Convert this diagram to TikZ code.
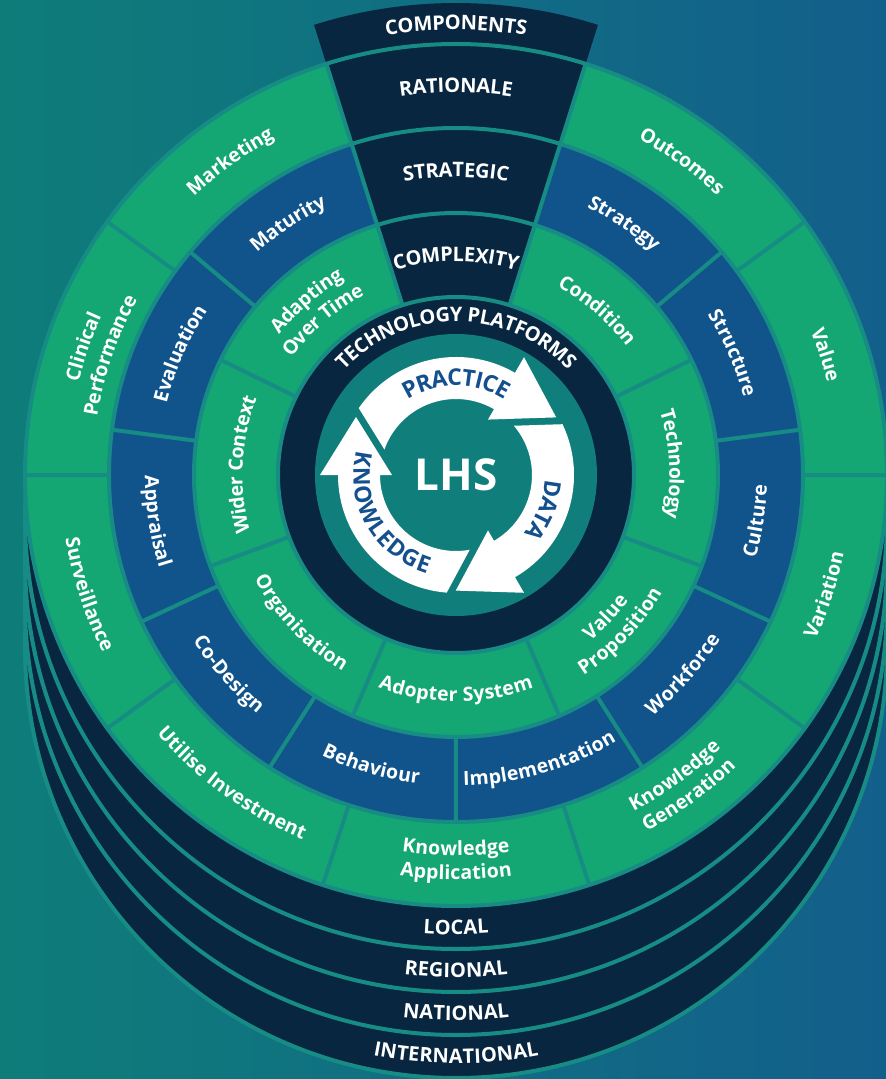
\documentclass[tikz,border=0pt]{standalone}
\usepackage{fontspec}
\setmainfont{Open Sans}
\usetikzlibrary{decorations.text}

\definecolor{lhsbgL}{HTML}{0E7D79}
\definecolor{lhsbgR}{HTML}{135F8C}
\definecolor{lhsgreen}{HTML}{14A774}
\definecolor{lhsblue}{HTML}{11548B}
\definecolor{lhsnavy}{HTML}{08263F}
\definecolor{lhsteal}{HTML}{107F7B}
\definecolor{lhssep}{HTML}{178C84}
\definecolor{lhstxt}{HTML}{15508E}

\newcommand{\ringfont}{\fontsize{19.5}{19.5}\selectfont\bfseries\color{white}}
\newcommand{\capsfont}{\fontsize{20}{20}\selectfont\bfseries\color{white}}
\newcommand{\cyclefont}{\fontsize{23}{23}\selectfont\bfseries\color{lhstxt}}

% text on an arc, reading clockwise (upper half) or counter-clockwise (lower half)
\newcommand{\cwlabel}[4][\ringfont]{\path[decorate,decoration={text along path,text align=center,raise=-6.5pt,text={|#1|#4}}]
  ({#2+80}:#3) arc[start angle={#2+80},end angle={#2-80},radius=#3];}
\newcommand{\ccwlabel}[4][\ringfont]{\path[decorate,decoration={text along path,text align=center,raise=-6.5pt,text={|#1|#4}}]
  ({#2-80}:#3) arc[start angle={#2-80},end angle={#2+80},radius=#3];}

\begin{document}
\begin{tikzpicture}[
    x=1pt, y=1pt,
    sep/.style={draw=lhssep, line width=4pt},
    disc/.style={fill=lhsnavy, draw=lhssep, line width=4pt},
    cyclearrow/.style={fill=white},
  ]
  \useasboundingbox (-456,-604) rectangle (430,475);
  \shade[left color=lhsbgL, right color=lhsbgR] (-456,-604) rectangle (430,475);

  % levels underneath
  \path[disc] (0,-172) circle (431);
  \path[disc] (0,-129) circle (431);
  \path[disc] (0,-86) circle (431);
  \path[disc] (0,-43) circle (431);

  % rings
  \path[fill=lhsgreen] (0,0) circle (431);
  \fill[lhsblue] (0,0) circle (347);
  \fill[lhsgreen] (0,0) circle (262);
  \fill[lhsnavy] (0,0) circle (178);
  \fill[lhsteal] (0,0) circle (141);

  % components wedge
  \fill[lhsnavy] (72.5:178) -- (72.5:472) arc[start angle=72.5, end angle=107.5, radius=472]
    -- (107.5:178) arc[start angle=107.5, end angle=72.5, radius=178] -- cycle;

  % separators
  \draw[sep] (0,0) circle (431) (0,0) circle (347) (0,0) circle (262) (0,0) circle (178);
  \draw[sep] (72.5:178) -- (72.5:431) (107.5:178) -- (107.5:431);
  \draw[sep] (0:347) -- (0:431) (36:347) -- (36:431) (144:347) -- (144:431) (180:347) -- (180:431)
    (216:347) -- (216:431) (252:347) -- (252:431) (288:347) -- (288:431) (324:347) -- (324:431);
  \draw[sep] (40:262) -- (40:347) (7.5:262) -- (7.5:347) (-25:262) -- (-25:347) (-57.5:262) -- (-57.5:347)
    (-90:262) -- (-90:347) (-122.5:262) -- (-122.5:347) (-155:262) -- (-155:347)
    (-187.5:262) -- (-187.5:347) (-220:262) -- (-220:347);
  \draw[sep] (26.07:178) -- (26.07:262) (-20.36:178) -- (-20.36:262) (-66.79:178) -- (-66.79:262)
    (-113.21:178) -- (-113.21:262) (-159.64:178) -- (-159.64:262) (-206.07:178) -- (-206.07:262);

  % cycle arrows
  \path[cyclearrow, rotate=-30] (175.5:118) arc[start angle=175.5, end angle=90, radius=118]
    -- (90:136) -- (58,100) -- (90:64) -- (90:76) arc[start angle=90, end angle=190.4, radius=76] -- cycle;
  \path[cyclearrow, rotate=-150] (175.5:118) arc[start angle=175.5, end angle=90, radius=118]
    -- (90:136) -- (58,100) -- (90:64) -- (90:76) arc[start angle=90, end angle=190.4, radius=76] -- cycle;
  \path[cyclearrow, rotate=90] (175.5:118) arc[start angle=175.5, end angle=90, radius=118]
    -- (90:136) -- (58,100) -- (90:64) -- (90:76) arc[start angle=90, end angle=190.4, radius=76] -- cycle;

  \node[text=white, font=\fontsize{44}{44}\selectfont\bfseries] (lhs) at (0,0) {LHS};
  \cwlabel[\cyclefont]{90}{96}{PRACTICE}
  \cwlabel[\cyclefont]{-22}{96}{DATA}
  \ccwlabel[\cyclefont]{210}{96}{KNOWLEDGE}

  % wedge and platform labels
  \cwlabel[\capsfont]{90}{451.5}{COMPONENTS}
  \cwlabel[\capsfont]{90}{389}{RATIONALE}
  \cwlabel[\capsfont]{90}{304.5}{STRATEGIC}
  \cwlabel[\capsfont]{90}{220}{COMPLEXITY}
  \cwlabel[\capsfont]{90}{160}{TECHNOLOGY PLATFORMS}

  % outer ring
  \cwlabel{18}{389}{Value}
  \cwlabel{54.25}{389}{Outcomes}
  \cwlabel{125.75}{389}{Marketing}
  \cwlabel{161}{395}{Clinical}
  \cwlabel{161}{370}{Performance}
  \ccwlabel{198}{389}{Surveillance}
  \ccwlabel{234}{389}{Utilise Investment}
  \ccwlabel{270}{374}{Knowledge}
  \ccwlabel{270}{398}{Application}
  \ccwlabel{306}{374}{Knowledge}
  \ccwlabel{306}{398}{Generation}
  \ccwlabel{342}{389}{Variation}

  % middle ring
  \cwlabel{56.25}{304.5}{Strategy}
  \cwlabel{23.75}{304.5}{Structure}
  \ccwlabel{-8.75}{304.5}{Culture}
  \ccwlabel{-41.25}{304.5}{Workforce}
  \ccwlabel{-73.75}{304.5}{Implementation}
  \ccwlabel{-106.25}{304.5}{Behaviour}
  \ccwlabel{-138.75}{304.5}{Co-Design}
  \ccwlabel{-171.25}{304.5}{Appraisal}
  \cwlabel{156.25}{304.5}{Evaluation}
  \cwlabel{123.75}{304.5}{Maturity}

  % inner ring
  \cwlabel{49.3}{220}{Condition}
  \cwlabel{2.9}{220}{Technology}
  \ccwlabel{-43.6}{207}{Value}
  \ccwlabel{-43.6}{231}{Proposition}
  \ccwlabel{-90}{220}{Adopter System}
  \ccwlabel{-136.4}{220}{Organisation}
  \cwlabel{177.2}{220}{Wider Context}
  \cwlabel{130.7}{232}{Adapting}
  \cwlabel{130.7}{208}{Over Time}

  % levels
  \path[shift={(0,-21.5)}, decorate, decoration={text along path, text align=center, raise=-7pt, text={|\capsfont|LOCAL}}]
    (240:431) arc[start angle=240, end angle=300, radius=431];
  \path[shift={(0,-64.5)}, decorate, decoration={text along path, text align=center, raise=-7pt, text={|\capsfont|REGIONAL}}]
    (240:431) arc[start angle=240, end angle=300, radius=431];
  \path[shift={(0,-107.5)}, decorate, decoration={text along path, text align=center, raise=-7pt, text={|\capsfont|NATIONAL}}]
    (240:431) arc[start angle=240, end angle=300, radius=431];
  \path[shift={(0,-150.5)}, decorate, decoration={text along path, text align=center, raise=-7pt, text={|\capsfont|INTERNATIONAL}}]
    (240:431) arc[start angle=240, end angle=300, radius=431];
\end{tikzpicture}
\end{document}
